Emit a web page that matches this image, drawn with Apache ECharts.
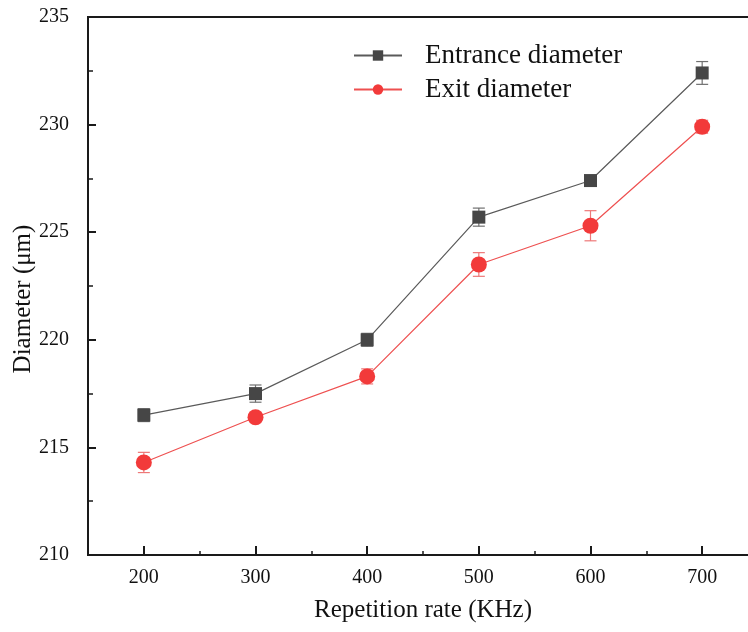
<!DOCTYPE html>
<html><head><meta charset="utf-8">
<script src="https://cdn.jsdelivr.net/npm/echarts@6/dist/echarts.min.js"></script>
<style>html,body{margin:0;padding:0;background:#fff}#c{width:748px;height:632px}</style>
</head><body><div id="c"></div>
<script>
var rates = [200, 300, 400, 500, 600, 700];
var entrance = [216.5, 217.5, 220.0, 225.7, 227.4, 232.4];
var entranceErr = [0.3, 0.4, 0.3, 0.42, 0.15, 0.53];
var exitD = [214.3, 216.4, 218.3, 223.5, 225.3, 229.9];
var exitErr = [0.47, 0.2, 0.35, 0.55, 0.7, 0.3];
var xTicks = [200, 300, 400, 500, 600, 700];
var xMinorTicks = [150, 250, 350, 450, 550, 650, 750];
var yTicks = [210, 215, 220, 225, 230, 235];

var font = 'Liberation Serif, Times New Roman, serif';
function pairs(v){ return rates.map(function(r,i){return [r, v[i]];}); }
function errData(v,e){ return rates.map(function(r,i){return [r, v[i]-e[i], v[i]+e[i]];}); }
function errSeries(v,e,color){
  return {
    type:'custom', silent:true, z:1,
    data: errData(v,e),
    renderItem: function(params, api){
      var lo = api.coord([api.value(0), api.value(1)]);
      var hi = api.coord([api.value(0), api.value(2)]);
      var w = 6;
      var st = {stroke: color, lineWidth: 1.2};
      return {type:'group', children:[
        {type:'line', shape:{x1:lo[0],y1:lo[1],x2:hi[0],y2:hi[1]}, style:st},
        {type:'line', shape:{x1:lo[0]-w,y1:lo[1],x2:lo[0]+w,y2:lo[1]}, style:st},
        {type:'line', shape:{x1:hi[0]-w,y1:hi[1],x2:hi[0]+w,y2:hi[1]}, style:st}
      ]};
    }
  };
}
var chart = echarts.init(document.getElementById('c'));
chart.setOption({
  animation:false,
  grid:{left:88, top:17, right:-10, bottom:77, outerBoundsMode:'none', show:true, borderColor:'#1a1a1a', borderWidth:2},
  legend:{
    orient:'vertical', left:348, top:37, itemWidth:48, itemHeight:13, itemGap:7,
    textStyle:{fontFamily:font, fontSize:27, color:'#111', padding:[0,0,0,18]},
    data:['Entrance diameter','Exit diameter']
  },
  xAxis:[{
    type:'value', min:150, max:750,
    axisLine:{lineStyle:{color:'#1a1a1a', width:2}},
    axisTick:{inside:true, length:9, lineStyle:{color:'#1a1a1a', width:2}, customValues:xTicks},
    splitLine:{show:false},
    axisLabel:{fontFamily:font, fontSize:20, color:'#111', margin:13, customValues:xTicks},
    name:'Repetition rate (KHz)', nameLocation:'middle', nameGap:43,
    nameTextStyle:{fontFamily:font, fontSize:25, color:'#111'}
  },{
    type:'value', min:150, max:750, position:'bottom',
    axisLine:{show:false},
    axisTick:{inside:true, length:4, lineStyle:{color:'#1a1a1a', width:1.5}, customValues:xMinorTicks},
    axisLabel:{show:false}, splitLine:{show:false}
  }],
  yAxis:{
    type:'value', min:yTicks[0], max:yTicks[yTicks.length-1], interval:5,
    axisLine:{lineStyle:{color:'#1a1a1a', width:2}},
    axisTick:{inside:true, length:8, lineStyle:{color:'#1a1a1a', width:2}},
    minorTick:{show:true, splitNumber:2, length:5, lineStyle:{color:'#1a1a1a', width:1.5}},
    splitLine:{show:false},
    axisLabel:{fontFamily:font, fontSize:20, color:'#111', margin:19},
    name:'Diameter (μm)', nameLocation:'middle', nameGap:52, nameMoveOverlap:false,
    nameTextStyle:{fontFamily:font, fontSize:25, color:'#111', padding:[0,26,0,0]}
  },
  series:[
    errSeries(entrance, entranceErr, '#707070'),
    errSeries(exitD, exitErr, '#ee7878'),
    {name:'Entrance diameter', type:'line', data:pairs(entrance), z:3,
     symbol:'rect', symbolSize:13,
     itemStyle:{color:'#464646'}, lineStyle:{color:'#5a5a5a', width:1.2}},
    {name:'Exit diameter', type:'line', data:pairs(exitD), z:3,
     symbol:'circle', symbolSize:16,
     itemStyle:{color:'#f23a3a'}, lineStyle:{color:'#ee5050', width:1.2}}
  ]
});
</script></body></html>
